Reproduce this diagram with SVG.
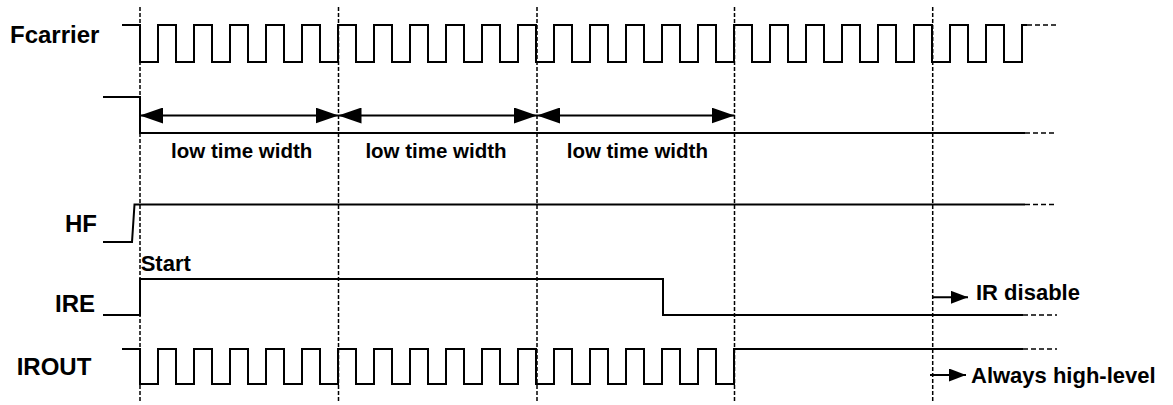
<svg xmlns="http://www.w3.org/2000/svg" width="1173" height="405" viewBox="0 0 1173 405">
<style>
.sig{fill:none;stroke:#000;stroke-width:2;stroke-linejoin:miter}
.ext{fill:none;stroke:#000;stroke-width:1.5;stroke-dasharray:5,3}
.grid{fill:none;stroke:#000;stroke-width:1.5;stroke-dasharray:4,2}
.arr{fill:none;stroke:#000;stroke-width:2}
.lbl{font-family:"Liberation Sans",Arial,sans-serif;font-weight:bold;fill:#000}
.big{font-size:24px}
.mid{font-size:22px}
.sm{font-size:20.5px}
</style>
<defs>
<marker id="head" markerUnits="userSpaceOnUse" viewBox="0 0 23 16" refX="23" refY="8" markerWidth="23" markerHeight="16" orient="auto-start-reverse">
<path d="M0,0 L23,8 L0,16 z" fill="#000"/>
</marker>
<marker id="headS" markerUnits="userSpaceOnUse" viewBox="0 0 17 13" refX="17" refY="6.5" markerWidth="17" markerHeight="13" orient="auto">
<path d="M0,0 L17,6.5 L0,13 z" fill="#000"/>
</marker>
</defs>
<rect width="1173" height="405" fill="#fff"/>
<g id="grid">
<line class="grid" x1="140" y1="7" x2="140" y2="403"/>
<line class="grid" x1="338.5" y1="7" x2="338.5" y2="403"/>
<line class="grid" x1="537" y1="7" x2="537" y2="403"/>
<line class="grid" x1="734.5" y1="7" x2="734.5" y2="403"/>
<line class="grid" x1="932.7" y1="7" x2="932.7" y2="403"/>
</g>
<g id="fcarrier">
<text class="lbl big" x="10" y="43">Fcarrier</text>
<path class="sig" d="M122,25 H140 V62 H158 V25 H176 V62 H194 V25 H212 V62 H230 V25 H248 V62 H266 V25 H284 V62 H302 V25 H320 V62 H338 V25 H356 V62 H374 V25 H392 V62 H410 V25 H428 V62 H446 V25 H464 V62 H482 V25 H500 V62 H518 V25 H536 V62 H554 V25 H572 V62 H590 V25 H608 V62 H626 V25 H644 V62 H662 V25 H680 V62 H698 V25 H716 V62 H734 V25 H752 V62 H770 V25 H788 V62 H806 V25 H824 V62 H842 V25 H860 V62 H878 V25 H896 V62 H914 V25 H932 V62 H950 V25 H968 V62 H986 V25 H1004 V62 H1022 V25 H1027"/>
<path class="ext" d="M1027,25 H1057"/>
</g>
<g id="lowtime">
<path class="sig" d="M103,97 H140 V133 H1025"/>
<path class="ext" d="M1025,133 H1057"/>
<text class="lbl sm" x="241.7" y="158" text-anchor="middle">low time width</text>
<text class="lbl sm" x="436" y="158" text-anchor="middle">low time width</text>
<text class="lbl sm" x="637.3" y="158" text-anchor="middle">low time width</text>
</g>
<g id="hf">
<text class="lbl big" x="65" y="231.7">HF</text>
<path class="sig" d="M103,242 H132 L134.5,204.5 H1025"/>
<path class="ext" d="M1025,204.5 H1057"/>
</g>
<g id="ire">
<text class="lbl big" x="55" y="311.7">IRE</text>
<text class="lbl mid" x="140.7" y="271">Start</text>
<path class="sig" d="M103,315 H140 V279 H663 V315 H1023"/>
<path class="ext" d="M1023,315 H1057"/>
<text class="lbl mid" x="976" y="300">IR disable</text>
</g>
<g id="irout">
<text class="lbl big" x="16.7" y="375">IROUT</text>
<path class="sig" d="M122,349 H140 V384 H158 V349 H176 V384 H194 V349 H212 V384 H230 V349 H248 V384 H266 V349 H284 V384 H302 V349 H320 V384 H338 V349 H356 V384 H374 V349 H392 V384 H410 V349 H428 V384 H446 V349 H464 V384 H482 V349 H500 V384 H518 V349 H536 V384 H554 V349 H572 V384 H590 V349 H608 V384 H626 V349 H644 V384 H662 V349 H680 V384 H698 V349 H716 V384 H734 V349 H1023"/>
<path class="ext" d="M1023,349 H1057"/>
<text class="lbl mid" x="971" y="383.3">Always high-level</text>
</g>
<g id="connectors">
<line class="arr" x1="140" y1="115.5" x2="338.5" y2="115.5" marker-start="url(#head)" marker-end="url(#head)"/>
<line class="arr" x1="338.5" y1="115.5" x2="537" y2="115.5" marker-start="url(#head)" marker-end="url(#head)"/>
<line class="arr" x1="537" y1="115.5" x2="734.5" y2="115.5" marker-start="url(#head)" marker-end="url(#head)"/>
<line class="arr" x1="933" y1="297.3" x2="968" y2="297.3" marker-end="url(#headS)"/>
<line class="arr" x1="930" y1="375" x2="966" y2="375" marker-end="url(#headS)"/>
</g>
</svg>
